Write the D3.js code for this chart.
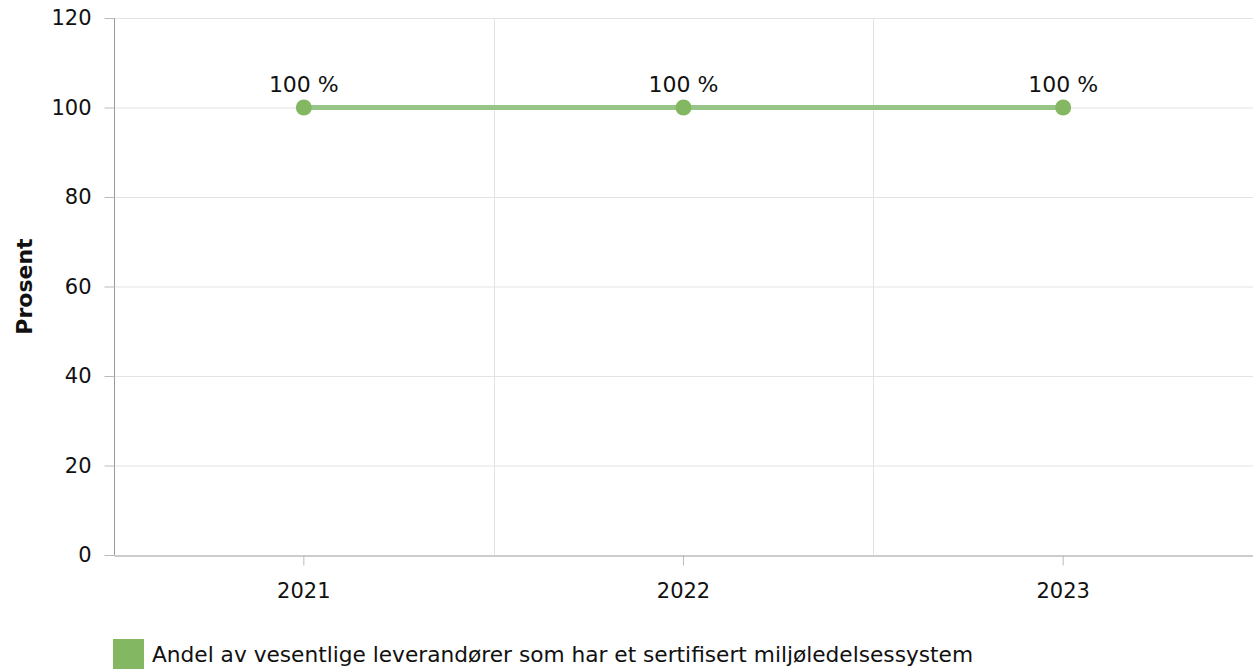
<!DOCTYPE html>
<html>
<head>
<meta charset="utf-8">
<script src="https://cdn.jsdelivr.net/npm/d3@7"></script>
<style>
  body { margin: 0; background: #fff; }
  text { font-family: "DejaVu Sans", Verdana, sans-serif; fill: #111; }
</style>
</head>
<body>
<svg class="chart"></svg>
<script>
// data
var years = ['2021', '2022', '2023'];
var values = [100, 100, 100];
var yTicks = [0, 20, 40, 60, 80, 100, 120];
var seriesName = 'Andel av vesentlige leverandører som har et sertifisert miljøledelsessystem';
var yTitle = 'Prosent';

// chart
var width = 1253;
var height = 669;
var margin = { left: 114, right: 0, top: 18, bottom: 114 };

var chart = d3.select('.chart')
    .attr('width', width)
    .attr('height', height);

var x = d3.scaleBand()
    .domain(years)
    .range([margin.left, width - margin.right]);

var y = d3.scaleLinear()
    .domain([0, 120])
    .range([height - margin.bottom, margin.top]);

// grid
chart.append('g')
    .selectAll('line')
    .data(yTicks.slice(1))
  .enter().append('line')
    .attr('x1', margin.left)
    .attr('x2', width - margin.right)
    .attr('y1', function(d){ return y(d) + 0.5; })
    .attr('y2', function(d){ return y(d) + 0.5; })
    .attr('stroke', '#e3e3e3');

chart.append('g')
    .selectAll('line')
    .data(years.slice(1))
  .enter().append('line')
    .attr('x1', function(d){ return Math.round(x(d)) + 0.5; })
    .attr('x2', function(d){ return Math.round(x(d)) + 0.5; })
    .attr('y1', margin.top)
    .attr('y2', y(0))
    .attr('stroke', '#e3e3e3');

// axes
var yAxis = d3.axisLeft(y)
    .tickValues(yTicks)
    .tickSize(10)
    .tickPadding(13);

var gy = chart.append('g')
    .attr('transform', 'translate(' + (margin.left + 0.5) + ',0)')
    .call(yAxis);
gy.select('.domain').attr('stroke', '#999').attr('d', 'M0,' + y(0) + 'V' + margin.top);
gy.selectAll('.tick line').attr('stroke', '#bbb');
gy.selectAll('text').style('font-size', '21px');

var xAxis = d3.axisBottom(x)
    .tickSize(10)
    .tickSizeOuter(0)
    .tickPadding(18);

var gx = chart.append('g')
    .attr('transform', 'translate(0,' + (y(0) + 0.5) + ')')
    .call(xAxis);
gx.select('.domain').attr('stroke', '#999');
gx.selectAll('.tick line').attr('stroke', '#bbb');
gx.selectAll('text').style('font-size', '21px');

// axis title
chart.append('text')
    .attr('transform', 'translate(32,' + (margin.top + (y(0) - margin.top) / 2) + ') rotate(-90)')
    .attr('text-anchor', 'middle')
    .style('font-size', '22px')
    .style('font-weight', 'bold')
    .text(yTitle);

// line
var cx = function(d, i){ return x(years[i]) + x.bandwidth() / 2; };

var line = d3.line()
    .x(cx)
    .y(function(d){ return y(d); });

chart.append('path')
    .datum(values)
    .attr('d', line)
    .attr('fill', 'none')
    .attr('stroke', '#97c487')
    .attr('stroke-width', 5);

chart.selectAll('.dot')
    .data(values)
  .enter().append('circle')
    .attr('class', 'dot')
    .attr('cx', cx)
    .attr('cy', function(d){ return y(d); })
    .attr('r', 8)
    .attr('fill', '#84b761');

chart.selectAll('.label')
    .data(values)
  .enter().append('text')
    .attr('class', 'label')
    .attr('x', cx)
    .attr('y', function(d){ return y(d) - 16; })
    .attr('text-anchor', 'middle')
    .style('font-size', '22px')
    .text(function(d){ return d + ' %'; });

// legend
var legend = chart.append('g')
    .attr('transform', 'translate(113,639)');

legend.append('rect')
    .attr('width', 31)
    .attr('height', 31)
    .attr('fill', '#84b761');

legend.append('text')
    .attr('x', 39)
    .attr('y', 23)
    .style('font-size', '21.7px')
    .text(seriesName);
</script>
</body>
</html>
